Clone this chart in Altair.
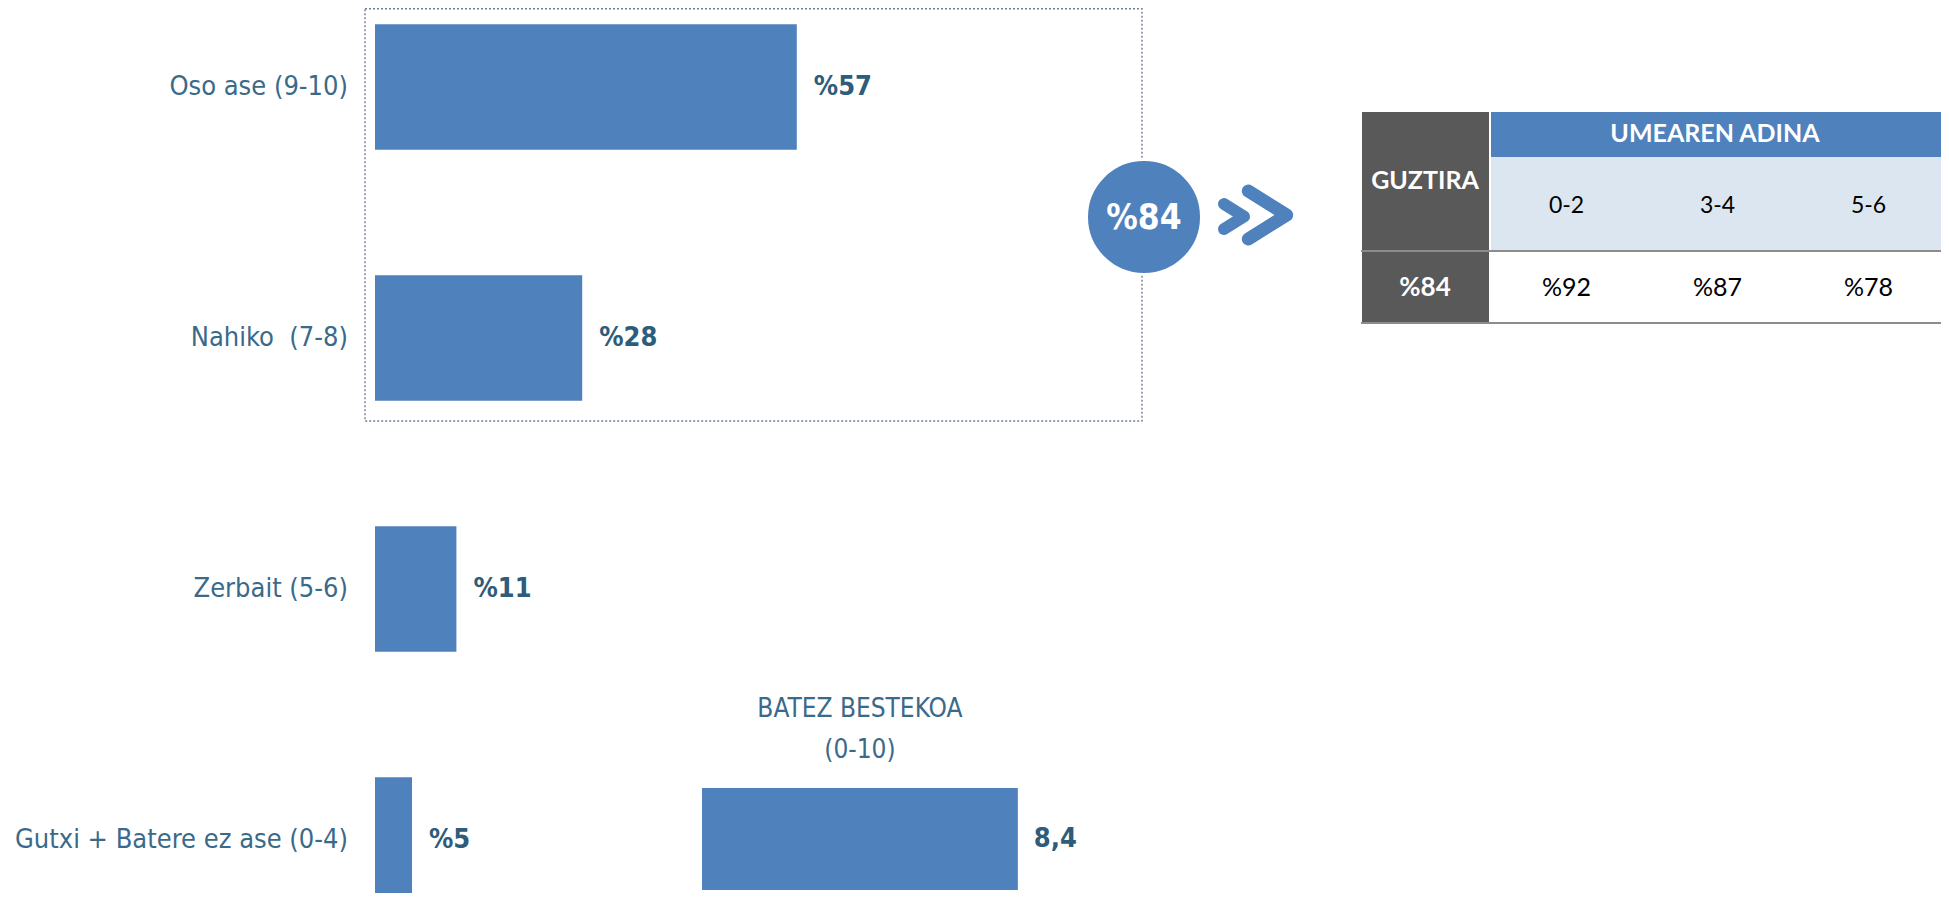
import altair as alt
import pandas as pd

# ---------------- data ----------------
categories = ["Oso ase (9-10)", "Nahiko\u00a0 (7-8)", "Zerbait (5-6)", "Gutxi + Batere ez ase (0-4)"]
shares = [57, 28, 11, 5]

mean_title = "BATEZ BESTEKOA\n(0-10)"
mean_value = 8.4

satisfied_total = 84

total_header = "GUZTIRA"
age_header = "UMEAREN ADINA"
age_groups = ["0-2", "3-4", "5-6"]
age_values = [92, 87, 78]

# ---------------- styles ----------------
W, H = 1933, 885
BLUE = "#4F81BD"
LIGHT = "#DCE6F1"
GREY = "#595959"
LINE = "#8C8C8C"
VAL_COLOR = "#2E5C7A"
CAT_COLOR = "#3A6A8A"
LABEL_FONT = "Liberation Sans Narrow, DejaVu Sans Condensed, Roboto Condensed, Lato"
TABLE_FONT = "Lato"

bars_df = pd.DataFrame({"category": categories, "share": shares})
bars_df["label"] = "%" + bars_df["share"].astype(str)

mean_df = pd.DataFrame({"measure": [mean_title], "value": [mean_value]})
mean_df["label"] = mean_df["value"].map(lambda v: f"{v:.1f}".replace(".", ","))

total_df = pd.DataFrame({"total": [satisfied_total]})
total_df["label"] = "%" + total_df["total"].astype(str)

age_df = pd.DataFrame({"age": age_groups, "value": age_values})
age_df["label"] = "%" + age_df["value"].astype(str)

# ---------------- scales ----------------
xs = alt.Scale(domain=[0, 100], range=[367, 1107])
ys = alt.Scale(domain=categories, range=[-46.5, 957.5], paddingInner=0.5, paddingOuter=0.25)
mxs = alt.Scale(domain=[0, 10], range=[694, 1070])
mys = alt.Scale(domain=[mean_title], range=[780, 882], paddingInner=0, paddingOuter=0)
axs = alt.Scale(domain=age_groups, range=[1483, 1936], paddingInner=0, paddingOuter=0)

# ---------------- layers ----------------
box = alt.Chart(total_df).mark_rect(
    fillOpacity=0, stroke="#6F809A", strokeWidth=1.4, strokeDash=[2, 2]
).encode(x=alt.value(357), x2=alt.value(1134), y=alt.value(0.8), y2=alt.value(413))

bars = alt.Chart(bars_df).mark_bar(color=BLUE).encode(
    x=alt.X("share:Q", scale=xs, axis=None),
    y=alt.Y("category:N", scale=ys, axis=None),
)

cat_labels = alt.Chart(bars_df).mark_text(
    align="right", baseline="middle", dx=-27, font=LABEL_FONT, fontSize=27, color=CAT_COLOR
).encode(
    x=alt.X(datum=0, scale=xs, axis=None),
    y=alt.Y("category:N", scale=ys, axis=None),
    text="category:N",
)

val_labels = alt.Chart(bars_df).mark_text(
    align="left", baseline="middle", dx=17, font=LABEL_FONT, fontSize=27, fontWeight="bold", color=VAL_COLOR
).encode(
    x=alt.X("share:Q", scale=xs, axis=None),
    y=alt.Y("category:N", scale=ys, axis=None),
    text="label:N",
)

mean_bar = alt.Chart(mean_df).mark_bar(color=BLUE).encode(
    x=alt.X("value:Q", scale=mxs, axis=None),
    y=alt.Y("measure:N", scale=mys, axis=None),
)

mean_val = alt.Chart(mean_df).mark_text(
    align="left", baseline="middle", dx=16, font=LABEL_FONT, fontSize=27, fontWeight="bold", color=VAL_COLOR
).encode(
    x=alt.X("value:Q", scale=mxs, axis=None),
    y=alt.Y("measure:N", scale=mys, axis=None),
    text="label:N",
)

mean_txt = alt.Chart(mean_df).transform_calculate(half="datum.value / 2").mark_text(
    align="center", baseline="middle", dy=-130, lineBreak="\n", lineHeight=41,
    font=LABEL_FONT, fontSize=26, color=CAT_COLOR
).encode(
    x=alt.X("half:Q", scale=mxs, axis=None),
    y=alt.Y("measure:N", scale=mys, axis=None),
    text="measure:N",
)

circle = alt.Chart(total_df).mark_point(
    shape="circle", filled=True, fill=BLUE, stroke="white", strokeWidth=2, size=12996, opacity=1
).encode(x=alt.value(1136), y=alt.value(209))

circle_txt = alt.Chart(total_df).mark_text(
    align="center", baseline="middle", font=LABEL_FONT, fontSize=35, fontWeight="bold", color="white"
).encode(x=alt.value(1136), y=alt.value(210), text="label:N")

CHEVRON = "M-0.8,-1L0.8,0L-0.8,1"
chev1 = alt.Chart(total_df).mark_point(
    shape=CHEVRON, filled=False, stroke=BLUE, strokeWidth=12, strokeCap="round", strokeJoin="round",
    size=625, opacity=1
).encode(x=alt.value(1226), y=alt.value(208.5))
chev2 = alt.Chart(total_df).mark_point(
    shape=CHEVRON, filled=False, stroke=BLUE, strokeWidth=13, strokeCap="round", strokeJoin="round",
    size=2304, opacity=1
).encode(x=alt.value(1259.5), y=alt.value(207))

# table
grey_col = alt.Chart(total_df).mark_rect(color=GREY).encode(
    x=alt.value(1354), x2=alt.value(1481), y=alt.value(104), y2=alt.value(315))
head = alt.Chart(total_df).mark_rect(color=BLUE).encode(
    x=alt.value(1483), x2=alt.value(1936), y=alt.value(104), y2=alt.value(149))
sub = alt.Chart(total_df).mark_rect(color=LIGHT).encode(
    x=alt.value(1483), x2=alt.value(1936), y=alt.value(149), y2=alt.value(243))
line1 = alt.Chart(total_df).mark_rule(color=LINE, strokeWidth=2).encode(
    x=alt.value(1353), x2=alt.value(1936), y=alt.value(243))
line2 = alt.Chart(total_df).mark_rule(color=LINE, strokeWidth=2).encode(
    x=alt.value(1353), x2=alt.value(1936), y=alt.value(315))

head_txt = alt.Chart(total_df).mark_text(
    align="center", baseline="middle", font=TABLE_FONT, fontSize=25, fontWeight="bold", color="white"
).encode(x=alt.value(1707), y=alt.value(126), text=alt.value(age_header))
tot_head_txt = alt.Chart(total_df).mark_text(
    align="center", baseline="middle", font=TABLE_FONT, fontSize=25, fontWeight="bold", color="white"
).encode(x=alt.value(1417), y=alt.value(173), text=alt.value(total_header))
tot_val_txt = alt.Chart(total_df).mark_text(
    align="center", baseline="middle", font=TABLE_FONT, fontSize=26, fontWeight="bold", color="white"
).encode(x=alt.value(1417), y=alt.value(280), text="label:N")

age_txt = alt.Chart(age_df).mark_text(
    align="center", baseline="middle", font=TABLE_FONT, fontSize=23, color="black"
).encode(
    x=alt.X("age:N", scale=axs, axis=None, bandPosition=0.5),
    y=alt.value(198), text="age:N")
age_val_txt = alt.Chart(age_df).mark_text(
    align="center", baseline="middle", font=TABLE_FONT, fontSize=25, color="black"
).encode(
    x=alt.X("age:N", scale=axs, axis=None, bandPosition=0.5),
    y=alt.value(280), text="label:N")

chart = alt.layer(
    box, bars, cat_labels, val_labels, mean_bar, mean_val, mean_txt,
    circle, circle_txt, chev1, chev2,
    grey_col, head, sub, line1, line2, head_txt, tot_head_txt, tot_val_txt, age_txt, age_val_txt,
).resolve_scale(x="independent", y="independent").properties(
    width=W, height=H, autosize=alt.AutoSizeParams(type="none"), padding=0
).configure_view(stroke=None)

chart.save("out.html", embed_options={"renderer": "svg", "actions": False})
